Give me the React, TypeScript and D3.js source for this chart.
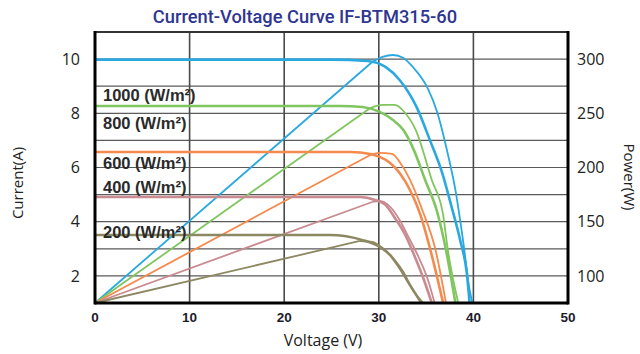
import React from "react";
import * as d3 from "d3";

// ---- data ----
const irradianceLabels = ["1000 (W/m²)", "800 (W/m²)", "600 (W/m²)", "400 (W/m²)", "200 (W/m²)"];
const seriesColors = ["#29a9e0", "#80c65f", "#f6894c", "#c98a90", "#8c8862"];
const labelCurrent = [8.68, 7.64, 6.17, 5.28, 3.62];

const iv1000: [number, number][] = [[0, 9.98], [25.0, 9.98], [28.8, 9.93], [30.7, 9.71], [32.2, 9.23], [34.0, 8.23], [35.4, 7.01], [36.7, 5.8], [37.7, 4.54], [38.6, 3.32], [39.3, 2.11], [39.6, 1.0]];
const iv800: [number, number][] = [[0, 8.27], [25.9, 8.27], [28.3, 8.23], [30.1, 8.05], [31.5, 7.75], [32.6, 7.38], [33.7, 6.65], [34.9, 5.54], [36.2, 4.32], [37.1, 2.96], [38.1, 1.0]];
const iv600: [number, number][] = [[0, 6.57], [27.0, 6.57], [29.1, 6.5], [30.1, 6.39], [31.2, 6.17], [32.2, 5.8], [33.3, 5.17], [34.4, 4.25], [35.4, 3.03], [36.8, 1.0]];
const iv400: [number, number][] = [[0, 4.91], [28.0, 4.91], [29.6, 4.8], [30.7, 4.62], [31.7, 4.14], [32.8, 3.51], [33.6, 2.88], [34.7, 1.92], [35.6, 1.0]];
const iv200: [number, number][] = [[0, 3.51], [24.8, 3.51], [28.3, 3.32], [30.1, 3.07], [31.2, 2.77], [32.2, 2.29], [33.3, 1.66], [34.5, 1.0]];

const pv1000: [number, number][] = [[0, 75], [29.3, 297.3], [30.4, 302], [31.5, 303.8], [32.6, 301], [33.6, 292.7], [35.1, 274.3], [36.2, 250.3], [37.2, 216.1], [38.1, 179.2], [38.9, 133.1], [39.6, 87], [39.9, 75]];
const pv800: [number, number][] = [[0, 75], [29.1, 254.9], [30.4, 257.7], [31.7, 257.7], [32.7, 251.2], [33.9, 234.6], [35.6, 188.5], [36.8, 156.2], [37.3, 123.9], [38.4, 75]];
const pv600: [number, number][] = [[0, 75], [29.1, 211.5], [30.1, 213.4], [31.4, 212.5], [32.2, 205.1], [33.3, 188.5], [34.6, 160.8], [36.0, 123.9], [37.1, 75]];
const pv400: [number, number][] = [[0, 75], [29.3, 168.2], [30.1, 169.1], [31.2, 163.6], [32.2, 151.6], [33.3, 133.1], [34.1, 119.3], [35.2, 96.2], [35.9, 75]];
const pv200: [number, number][] = [[0, 75], [28.0, 132.2], [29.3, 131.3], [30.4, 125.7], [31.5, 116.5], [32.6, 103.6], [33.6, 87], [34.7, 75]];

const ivSeries = [iv1000, iv800, iv600, iv400, iv200];
const pvSeries = [pv1000, pv800, pv600, pv400, pv200];

const voltageTicks = [0, 10, 20, 30, 40, 50];
const currentTicks = [2, 4, 6, 8, 10];
const currentGrid = [2, 3, 4, 5, 6, 7, 8, 9, 10];
const powerTicks = [100, 150, 200, 250, 300];

const title = "Current-Voltage Curve IF-BTM315-60";

export default function App() {
  const W = 640, H = 354;
  const left = 95, right = 568, top = 32, bottom = 303;
  const x = d3.scaleLinear().domain([0, 50]).range([left, right]);
  const yI = d3.scaleLinear().domain([1, 11]).range([bottom, top]);
  const yP = d3.scaleLinear().domain([75, 325]).range([bottom, top]);
  const lineI = d3.line<[number, number]>().x(d => x(d[0])).y(d => yI(d[1])).curve(d3.curveMonotoneX);
  const lineP = d3.line<[number, number]>().x(d => x(d[0])).y(d => yP(d[1])).curve(d3.curveMonotoneX);
  const lineStraight = d3.line<[number, number]>().x(d => x(d[0])).y(d => yP(d[1]));
  const axisFont = "'Open Sans', 'Noto Sans', sans-serif";

  return (
    <svg width={W} height={H} style={{ position: "absolute", left: 0, top: 0, background: "#fff" }}>
      <text x={305} y={23} textAnchor="middle" fill="#2e3592" fontFamily="Roboto, sans-serif" fontWeight={500} fontSize={18.3}>{title}</text>
      {/* grid */}
      {currentGrid.map(v => (
        <line key={"h" + v} x1={left} x2={right} y1={yI(v)} y2={yI(v)} stroke="#5a5a5a" strokeWidth={1.2} />
      ))}
      {voltageTicks.slice(1, -1).map(v => (
        <line key={"v" + v} x1={x(v)} x2={x(v)} y1={top} y2={bottom} stroke="#4a4a4a" strokeWidth={1.6} />
      ))}
      {/* power curves: straight rise, then smooth knee */}
      {pvSeries.map((s, i) => (
        <g key={"p" + i}>
          <path d={lineStraight(s.slice(0, 2)) || ""} fill="none" stroke={seriesColors[i]} strokeWidth={1.8} />
          <path d={lineP(s.slice(1)) || ""} fill="none" stroke={seriesColors[i]} strokeWidth={1.8} />
        </g>
      ))}
      {ivSeries.map((s, i) => (
        <path key={"i" + i} d={lineI(s) || ""} fill="none" stroke={seriesColors[i]} strokeWidth={2.6} />
      ))}
      {/* frame */}
      <line x1={left} x2={right} y1={top} y2={top} stroke="#333" strokeWidth={2} />
      <line x1={left} x2={left} y1={top - 1} y2={bottom + 1.5} stroke="#000" strokeWidth={3} />
      <line x1={right} x2={right} y1={top - 1} y2={bottom + 1.5} stroke="#000" strokeWidth={3} />
      <line x1={left} x2={right} y1={bottom} y2={bottom} stroke="#000" strokeWidth={3} />
      {/* irradiance labels */}
      {irradianceLabels.map((t, i) => (
        <text key={"l" + i} x={103} y={yI(labelCurrent[i])} dy="0.35em" fill="#2a2a2a" fontFamily="'Liberation Sans', Arial, sans-serif" fontSize={16.5} fontWeight={700}>{t}</text>
      ))}
      {/* x ticks */}
      {voltageTicks.map(v => (
        <text key={"xt" + v} x={x(v)} y={317} dy="0.35em" textAnchor="middle" fill="#1c1c2c" fontFamily="'Liberation Sans', Arial, sans-serif" fontWeight={700} fontSize={13.5}>{v}</text>
      ))}
      {/* left ticks */}
      {currentTicks.map(v => (
        <text key={"yt" + v} x={80} y={yI(v)} dy="0.35em" textAnchor="end" fill="#222" fontFamily={axisFont} fontSize={16}>{v}</text>
      ))}
      {/* right ticks */}
      {powerTicks.map(v => (
        <text key={"pt" + v} x={577} y={yP(v)} dy="0.35em" textAnchor="start" fill="#222" fontFamily={axisFont} fontSize={16}>{v}</text>
      ))}
      <text x={323} y={340} dy="0.35em" textAnchor="middle" fill="#222" fontFamily={axisFont} fontSize={16}>Voltage (V)</text>
      <text transform={`translate(18,183) rotate(-90)`} textAnchor="middle" dy="0.35em" fill="#222" fontFamily={axisFont} fontSize={15}>Current(A)</text>
      <text transform={`translate(629,177) rotate(90)`} textAnchor="middle" dy="0.35em" fill="#222" fontFamily={axisFont} fontSize={15}>Power(W)</text>
    </svg>
  );
}
